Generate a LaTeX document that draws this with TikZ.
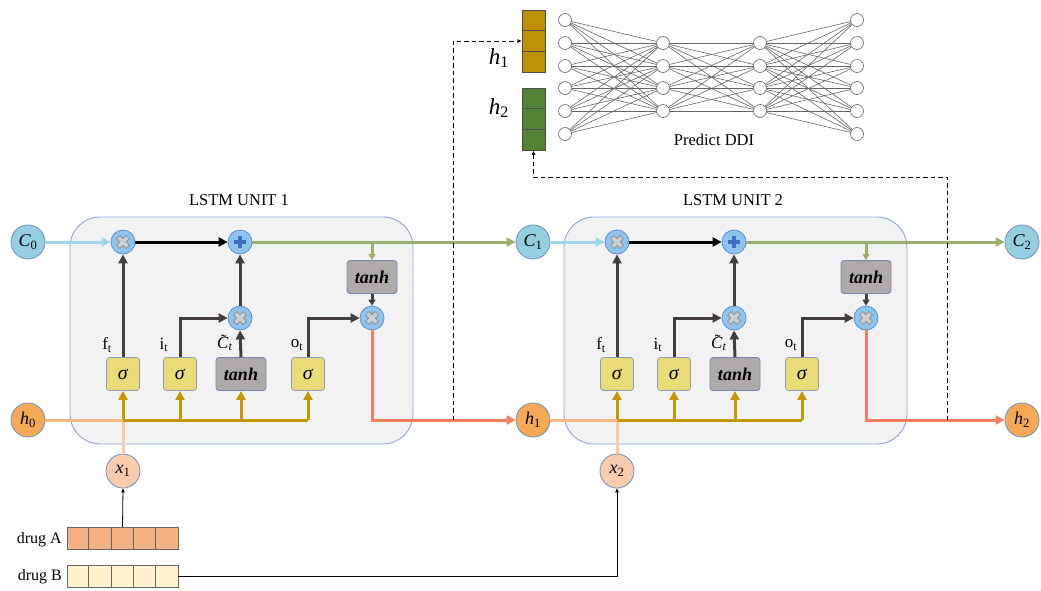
\documentclass[tikz,border=0pt]{standalone}
\usepackage{fontspec}
\setmainfont{Liberation Serif}
\usetikzlibrary{arrows.meta}

\definecolor{boxfill}{HTML}{F2F2F2}
\definecolor{boxedge}{HTML}{8EA6D0}
\definecolor{cfill}{HTML}{94CFE0}
\definecolor{circedge}{HTML}{6F8FC0}
\definecolor{hfill}{HTML}{F5A957}
\definecolor{xfill}{HTML}{F8CBAD}
\definecolor{sigfill}{HTML}{E9DC78}
\definecolor{gateedge}{HTML}{8E9CB4}
\definecolor{tanhfill}{HTML}{AEAAAA}
\definecolor{tanhedge}{HTML}{7688B0}
\definecolor{multfill}{HTML}{8EC4F0}
\definecolor{multedge}{HTML}{5B8FD0}
\definecolor{crossin}{HTML}{CFCFCF}
\definecolor{crossout}{HTML}{8C8C8C}
\definecolor{plusblue}{HTML}{3F6FC4}
\definecolor{darkline}{HTML}{433D3D}
\definecolor{busgold}{HTML}{C49800}
\definecolor{olivecell}{HTML}{9CAF6A}
\definecolor{cellblue}{HTML}{9DD8E9}
\definecolor{hidline}{HTML}{F47D60}
\definecolor{hinline}{HTML}{F8B680}
\definecolor{xinline}{HTML}{F8CBAD}
\definecolor{drugAfill}{HTML}{F4B183}
\definecolor{drugBfill}{HTML}{FFF2CC}
\definecolor{vecone}{HTML}{BF9000}
\definecolor{vectwo}{HTML}{548235}

% italic variable with a subscript, set in the text font
\newcommand\var[2]{\textit{#1}\textsubscript{#2}}
% candidate cell state, C with a tilde above
\newcommand\ctilde{\makebox[0pt][l]{\hspace{0.22em}\raisebox{0.1em}{˜}}\textit{C}\textsubscript{\textit{t}}}

\tikzset{
  unitbox/.style={draw=boxedge, fill=boxfill, line width=0.9pt, rounded corners=30pt,
    minimum width=343pt, minimum height=227pt, inner sep=0pt},
  title/.style={font=\fontsize{16.5}{19}\selectfont},
  cnode/.style={circle, draw=circedge, fill=cfill, line width=0.8pt, minimum size=34pt,
    inner sep=0pt, font=\fontsize{18}{21}\selectfont},
  hnode/.style={cnode, fill=hfill},
  xnode/.style={cnode, fill=xfill},
  gatebox/.style={draw=gateedge, fill=sigfill, rounded corners=3pt, minimum width=33pt,
    minimum height=33pt, line width=0.8pt, inner sep=0pt, font=\fontsize{20}{23}\selectfont},
  tanhbox/.style={gatebox, draw=tanhedge, fill=tanhfill, minimum width=50pt, minimum height=33pt,
    font=\fontsize{18}{21}\selectfont\bfseries\itshape},
  gatelabel/.style={font=\fontsize{17}{20}\selectfont, inner sep=0pt},
  opmult/.style={circle, draw=multedge, fill=multfill, minimum size=24pt, inner sep=0pt,
    line width=0.8pt, path picture={
      \draw[crossout, line width=5.4pt]
        ([xshift=-5pt,yshift=-5pt]path picture bounding box.center) --
        ([xshift=5pt,yshift=5pt]path picture bounding box.center)
        ([xshift=-5pt,yshift=5pt]path picture bounding box.center) --
        ([xshift=5pt,yshift=-5pt]path picture bounding box.center);
      \draw[crossin, line width=3.8pt]
        ([xshift=-4.4pt,yshift=-4.4pt]path picture bounding box.center) --
        ([xshift=4.4pt,yshift=4.4pt]path picture bounding box.center)
        ([xshift=-4.4pt,yshift=4.4pt]path picture bounding box.center) --
        ([xshift=4.4pt,yshift=-4.4pt]path picture bounding box.center);
    }},
  opplus/.style={circle, draw=multedge, fill=multfill, minimum size=24pt, inner sep=0pt,
    line width=0.8pt, path picture={
      \draw[plusblue, line width=3.8pt]
        ([xshift=-6pt]path picture bounding box.center) --
        ([xshift=6pt]path picture bounding box.center)
        ([yshift=-6pt]path picture bounding box.center) --
        ([yshift=6pt]path picture bounding box.center);
    }},
  arr/.style={-{Triangle[length=9pt,width=9pt]}},
  arrsmall/.style={-{Triangle[length=6pt,width=7pt]}},
  dkline/.style={draw=darkline, line width=3pt},
  blkline/.style={draw=black, line width=3pt},
  busline/.style={draw=busgold, line width=3pt},
  cline/.style={draw=cellblue, line width=3pt},
  oline/.style={draw=olivecell, line width=3pt},
  hout/.style={draw=hidline, line width=3pt},
  hin/.style={draw=hinline, line width=3pt},
  xline/.style={draw=xinline, line width=3pt},
  dashln/.style={draw=black, line width=1pt, dash pattern=on 4.5pt off 3pt,
    -{Triangle[length=4pt,width=3.5pt]}},
  thinarr/.style={draw=black, line width=0.8pt, -{Triangle[length=4pt,width=3.5pt]}},
  nnode/.style={circle, draw=black!55, fill=white, line width=0.7pt, minimum size=13pt, inner sep=0pt},
  nedge/.style={draw=black!60, line width=0.6pt},
  vecbox/.style={draw=black!70, line width=0.8pt, minimum width=23pt, minimum height=62pt, inner sep=0pt},
  drugarr/.style={draw=black!60, line width=0.8pt, minimum width=111pt, minimum height=22pt, inner sep=0pt},
  druglabel/.style={font=\fontsize{16}{19}\selectfont, anchor=east, inner sep=0pt},
}

% One LSTM cell; #1 = name suffix, #2 = horizontal offset, #3 = unit number
\newcommand\lstmcell[3]{%
\begin{scope}[xshift=#2pt]
  \node[unitbox] (box#1) at (241.5,330.5) {};
  \node[title] (title#1) at (239,200) {LSTM UNIT #3};
  \node[opmult] (mf#1) at (123,242) {};
  \node[opplus] (pl#1) at (240,242) {};
  \node[opmult] (mi#1) at (240,318) {};
  \node[tanhbox] (to#1) at (372,277) {tanh};
  \node[opmult] (mo#1) at (372,318) {};
  \node[gatebox] (sf#1) at (123,374) {\textit{σ}};
  \node[gatebox] (si#1) at (180,374) {\textit{σ}};
  \node[tanhbox] (tc#1) at (241,374) {tanh};
  \node[gatebox] (so#1) at (308,374) {\textit{σ}};
  \node[gatelabel] (lf#1) at (107,345) {f\textsubscript{t}};
  \node[gatelabel] (li#1) at (164,345) {i\textsubscript{t}};
  \node[gatelabel] (lc#1) at (225,343) {\ctilde};
  \node[gatelabel] (lo#1) at (297,345) {o\textsubscript{t}};
  \coordinate (b#1) at (123,420);
  \coordinate (be#1) at (308,420);
  % forget, input and candidate paths
  \draw[dkline, arr] (sf#1.north) -- (mf#1.south);
  \draw[dkline, arr] (si#1.north) |- (mi#1.west);
  \draw[dkline, arr] (tc#1.north) -- (mi#1.south);
  \draw[dkline, arr] (mi#1.north) -- (pl#1.south);
  \draw[dkline, arr] (so#1.north) |- (mo#1.west);
  \draw[blkline, arr] (mf#1.east) -- (pl#1.west);
  \draw[oline, arrsmall] (to#1.north |- pl#1) -- (to#1.north);
  \draw[dkline, arrsmall] (to#1.south) -- (mo#1.north);
  % input bus feeding the four gates
  \draw[busline] (b#1) -- (be#1);
  \draw[busline, arr] (b#1) -- (sf#1.south);
  \draw[busline, arr] (si#1.south |- b#1) -- (si#1.south);
  \draw[busline, arr] (tc#1.south |- b#1) -- (tc#1.south);
  \draw[busline, arr] (be#1) -- (so#1.south);
\end{scope}}

\begin{document}
\begin{tikzpicture}[x=1pt, y=-1pt]
\useasboundingbox (0,0) rectangle (1041,590);

% state nodes
\node[cnode] (C0) at (28,242) {\var{C}{0}};
\node[cnode] (C1) at (533,242) {\var{C}{1}};
\node[cnode] (C2) at (1022,242) {\var{C}{2}};
\node[hnode] (h0) at (28,420) {\var{h}{0}};
\node[hnode] (h1) at (533,420) {\var{h}{1}};
\node[hnode] (h2) at (1022,420) {\var{h}{2}};

\lstmcell{1}{0}{1}
\lstmcell{2}{494}{2}

% external inputs
\node[xnode] (x1) at (123,471) {\var{x}{1}};
\node[xnode] (x2) at (617,471) {\var{x}{2}};

% cell state and hidden state flow
\draw[cline, arr] (C0.east) -- (mf1.west);
\draw[cline, arr] (C1.east) -- (mf2.west);
\draw[oline, arr] (pl1.east) -- (C1.west);
\draw[oline, arr] (pl2.east) -- (C2.west);
\draw[hin] (h0.east) -- (b1);
\draw[hin] (h1.east) -- (b2);
\draw[xline] (x1.north) -- (b1);
\draw[xline] (x2.north) -- (b2);
\draw[busline] (b1) -- ([xshift=3pt]b1);
\draw[busline] (b2) -- ([xshift=3pt]b2);
\draw[hout, arr] (mo1.south) |- (h1.west);
\draw[hout, arr] (mo2.south) |- (h2.west);

% drug encodings
\node[drugarr, fill=drugAfill] (dA) at (122.5,538.5) {};
\node[drugarr, fill=drugBfill] (dB) at (122.5,576) {};
\foreach \k in {1,...,4} {
  \draw[black!60, line width=0.8pt] ([xshift=\k*22.2pt]dA.north west) -- ([xshift=\k*22.2pt]dA.south west);
  \draw[black!60, line width=0.8pt] ([xshift=\k*22.2pt]dB.north west) -- ([xshift=\k*22.2pt]dB.south west);
}
\node[druglabel] (lA) at (62,540) {drug A};
\node[druglabel] (lB) at (62,577) {drug B};
\draw[thinarr] (dA.north) -- (x1.south);
\draw[thinarr] (dB.east) -| (x2.south);

% hidden-state vectors
\node[vecbox, fill=vecone] (hv1) at (533.5,41) {};
\node[vecbox, fill=vectwo] (hv2) at (533.5,119.5) {};
\foreach \v in {hv1,hv2} {
  \draw[black!70, line width=0.8pt] ([yshift=-20.7pt]\v.north west) -- ([yshift=-20.7pt]\v.north east);
  \draw[black!70, line width=0.8pt] ([yshift=-41.3pt]\v.north west) -- ([yshift=-41.3pt]\v.north east);
}
\node[font=\fontsize{23}{27}\selectfont] (lh1) at (499,58) {\var{h}{1}};
\node[font=\fontsize{23}{27}\selectfont] (lh2) at (499,108) {\var{h}{2}};

\coordinate (tap1) at (453,420);
\coordinate (tap2) at (947,420);
\coordinate (turn2) at (947,177);
\draw[dashln] (tap1) |- (hv1.west);
\draw[dashln] (tap2) -- (turn2) -| (hv2.south);

% prediction network
\foreach \i/\y in {1/20,2/43,3/66,4/88,5/111,6/134} {
  \coordinate (pa\i) at (565,\y);
  \coordinate (pd\i) at (857,\y);
}
\foreach \i/\y in {1/43,2/66,3/88,4/111} {
  \coordinate (pb\i) at (663,\y);
  \coordinate (pc\i) at (760,\y);
}
\foreach \i in {1,...,6} \foreach \j in {1,...,4} {
  \draw[nedge] (pa\i) -- (pb\j);
  \draw[nedge] (pc\j) -- (pd\i);
}
\foreach \i in {1,...,4} \foreach \j in {1,...,4} {
  \draw[nedge] (pb\i) -- (pc\j);
}
\foreach \i in {1,...,6} {
  \node[nnode] (na\i) at (pa\i) {};
  \node[nnode] (nd\i) at (pd\i) {};
}
\foreach \i in {1,...,4} {
  \node[nnode] (nb\i) at (pb\i) {};
  \node[nnode] (nc\i) at (pc\i) {};
}
\node[title] (pddi) at (714,140) {Predict DDI};

\end{tikzpicture}
\end{document}
